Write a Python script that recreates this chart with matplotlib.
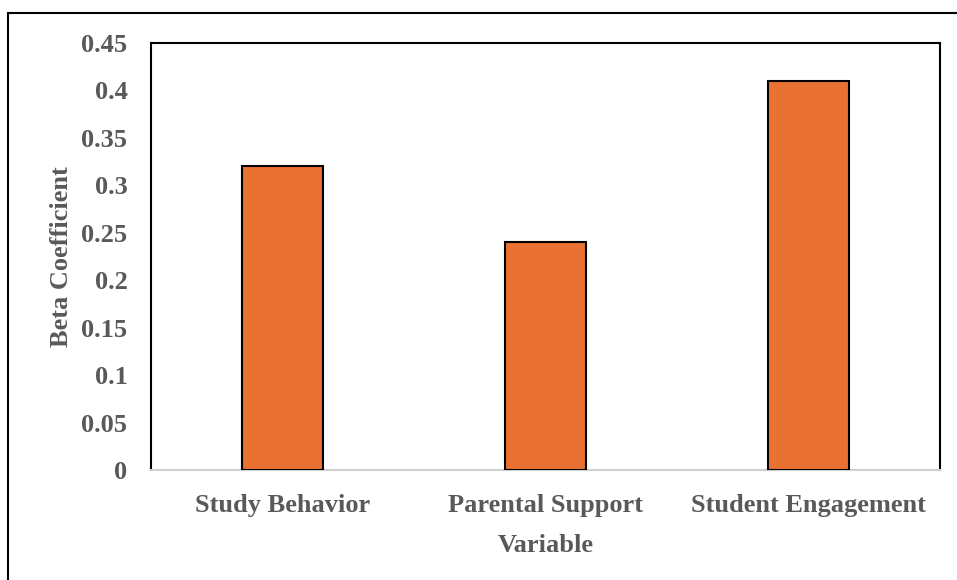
import matplotlib.pyplot as plt
from matplotlib.patches import Rectangle

variables = ["Study Behavior", "Parental Support", "Student Engagement"]
beta = [0.32, 0.24, 0.41]
yticks = [0, 0.05, 0.1, 0.15, 0.2, 0.25, 0.3, 0.35, 0.4, 0.45]
ytick_labels = ["0", "0.05", "0.1", "0.15", "0.2", "0.25", "0.3", "0.35", "0.4", "0.45"]

plt.rcParams['font.family'] = ['Liberation Serif', 'DejaVu Serif']
grey = '#595959'
fs = 19

W, H = 957, 580
fig = plt.figure(figsize=(W / 100, H / 100), dpi=100)
ax = fig.add_axes([151 / W, 1 - 470 / H, (940 - 151) / W, (470 - 43) / H])

x = range(len(variables))
ax.bar(x, beta, width=0.31, color='#E97132', edgecolor='black', linewidth=1.5, zorder=3)

ax.set_xlim(-0.5, 2.5)
ax.set_ylim(0, 0.45)
ax.set_yticks(yticks)
ax.set_yticklabels(ytick_labels, fontsize=fs, fontweight='bold', color=grey)
ax.set_xticks(list(x))
ax.set_xticklabels(variables, fontsize=fs, fontweight='bold', color=grey)
ax.tick_params(axis='both', length=0)
ax.tick_params(axis='y', pad=17)
ax.tick_params(axis='x', pad=17.5)

for side in ['left', 'top', 'right']:
    ax.spines[side].set_color('black')
    ax.spines[side].set_linewidth(1.5)
ax.spines['bottom'].set_color('#d0d0d0')
ax.spines['bottom'].set_linewidth(1.5)

ax.set_ylabel("Beta Coefficient", fontsize=fs, fontweight='bold', color=grey, labelpad=6)
ax.set_xlabel("Variable", fontsize=fs, fontweight='bold', color=grey, labelpad=12)

# frame around the whole chart
fig.add_artist(Rectangle((8 / W, -0.05), 1.1, 1 - 13 / H + 0.05, transform=fig.transFigure,
                         fill=False, edgecolor='black', linewidth=1.5))

fig.savefig("out.png", dpi=100)
